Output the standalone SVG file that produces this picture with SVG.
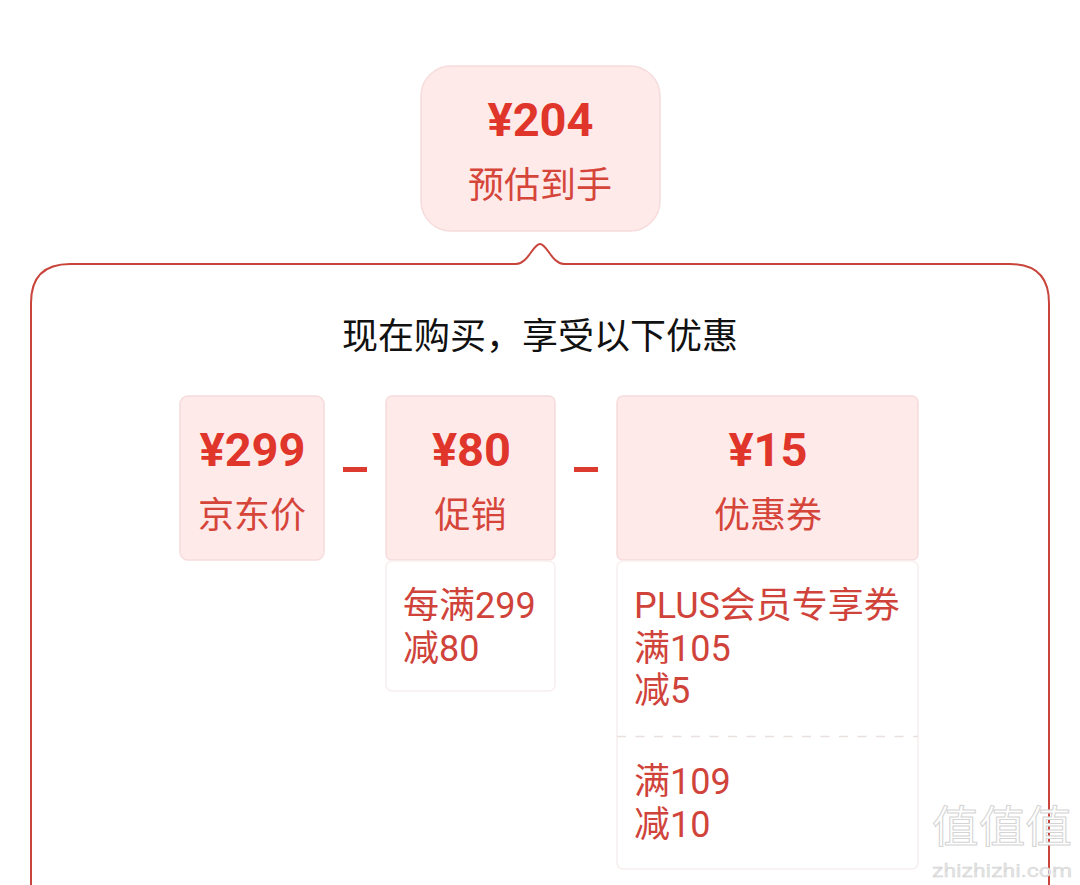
<svg xmlns="http://www.w3.org/2000/svg" width="1080" height="885" viewBox="0 0 1080 885">
<style>
text{font-family:"Roboto","Noto Sans CJK SC",sans-serif}
.price{font-size:47px;font-weight:700;fill:#e0352b;text-anchor:middle}
.label{font-size:36px;fill:#d5453a;text-anchor:middle}
.body{font-size:36px;fill:#d0433a}
.head{fill:#ffeaea;stroke:#f6dcdc;stroke-width:1.5}
.detail{fill:#fff;stroke:#f8eeee;stroke-width:1.5}
.minus{fill:#de3b30}
.wm{fill:#fff;stroke:#d4d4d4;stroke-width:1}
</style>
<rect width="1080" height="885" fill="#fff"/>
<g id="connectors">
<path id="bracket" d="M31 885V303Q31 264 70 264H516C528 264 533 244 540 244C547 244 552 264 564 264H1010Q1049 264 1049 303V885" fill="none" stroke="#c9453c" stroke-width="2"/>
<rect id="minus-1" class="minus" x="343" y="467" width="24" height="5"/>
<rect id="minus-2" class="minus" x="574" y="467" width="24" height="5"/>
</g>
<g id="node-total">
<rect class="head" x="421" y="66" width="239" height="165" rx="30"/>
<text class="price" x="540.500" y="136">¥204</text>
<text class="label" x="540" y="198">预估到手</text>
</g>
<text id="title" x="540" y="349" font-size="36" fill="#111" text-anchor="middle">现在购买，享受以下优惠</text>
<g id="node-jd">
<rect class="head" x="180" y="396" width="144" height="164" rx="8"/>
<text class="price" x="252.500" y="466">¥299</text>
<text class="label" x="252" y="528">京东价</text>
</g>
<g id="node-promo">
<rect class="head" x="386" y="396" width="169" height="164" rx="6"/>
<text class="price" x="471.500" y="466">¥80</text>
<text class="label" x="470.500" y="528">促销</text>
</g>
<g id="node-promo-detail">
<rect class="detail" x="386" y="561" width="169" height="130" rx="6"/>
<text class="body" x="403" y="618">每满299</text>
<text class="body" x="403" y="661">减80</text>
</g>
<g id="node-coupon">
<rect class="head" x="617" y="396" width="301" height="164" rx="6"/>
<text class="price" x="768" y="466">¥15</text>
<text class="label" x="768" y="528">优惠券</text>
</g>
<g id="node-coupon-detail">
<rect class="detail" x="617" y="561" width="301" height="308" rx="6"/>
<line x1="617" y1="736.500" x2="918" y2="736.500" stroke="#eadfdf" stroke-width="1.500" stroke-dasharray="9 9.500"/>
<text class="body" x="634" y="618">PLUS会员专享券</text>
<text class="body" x="634" y="661">满105</text>
<text class="body" x="634" y="703">减5</text>
<text class="body" x="634" y="794">满109</text>
<text class="body" x="634" y="837">减10</text>
</g>
<g id="watermark">
<text class="wm" x="1002" y="843" font-size="44" text-anchor="middle" textLength="140" lengthAdjust="spacingAndGlyphs">值值值</text>
<text x="1002" y="877" font-size="18" fill="#e4e4e4" stroke="#cfcfcf" stroke-width=".3" text-anchor="middle" textLength="140" lengthAdjust="spacingAndGlyphs">zhizhizhi.com</text>
</g>
</svg>
